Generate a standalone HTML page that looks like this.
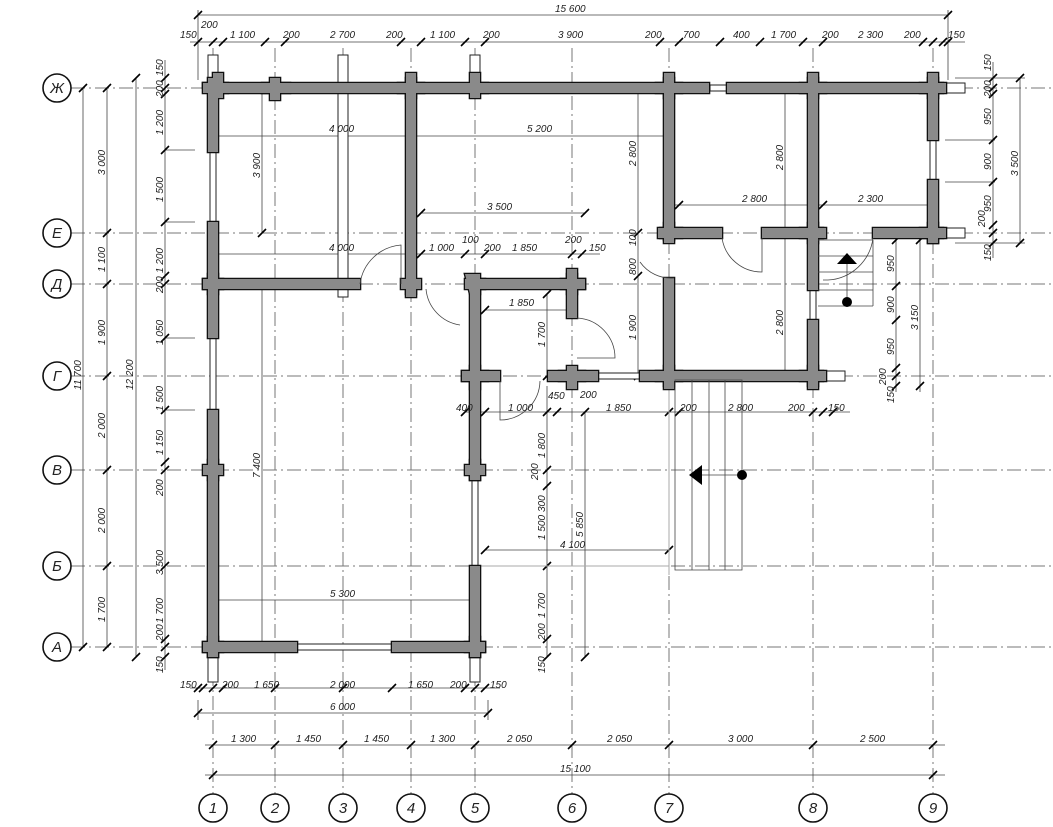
<!DOCTYPE html>
<html><head><meta charset="utf-8"><style>
html,body{margin:0;padding:0;background:#fff}
svg{display:block}
text{font-family:"Liberation Sans",sans-serif;font-style:italic;font-size:10px;fill:#222}
.ax{stroke:#777;stroke-width:1;stroke-dasharray:14 4 2 4;fill:none}
.d{stroke:#444;stroke-width:.8;fill:none}
.t{stroke:#000;stroke-width:1.6}
.wo{fill:#111;stroke:#111;stroke-width:2.6}
.wi{fill:#8a8a8a;stroke:none}
.s{fill:#fff;stroke:#222;stroke-width:1}
.b{fill:#fff;stroke:#111;stroke-width:1.6}
.bt{font-size:15px;text-anchor:middle;font-style:italic}
</style></head><body>
<svg width="1053" height="827" viewBox="0 0 1053 827" xmlns="http://www.w3.org/2000/svg">
<defs>
<g id="walls">
<path d="M203 83H709V93H203Z"/><path d="M727 83H943V93H727Z"/>
<path d="M208 78H218V152H208Z"/><path d="M208 222H218V338H208Z"/><path d="M208 410H218V657H208Z"/>
<path d="M203 642H297V652H203Z"/><path d="M392 642H485V652H392Z"/>
<path d="M203 279H360V289H203Z"/><path d="M406 78H416V294H406Z"/>
<path d="M465 279H585V289H465Z"/><path d="M470 279H480V480H470Z"/><path d="M470 566H480V657H470Z"/>
<path d="M567 274H577V318H567Z"/><path d="M548 371H598V381H548Z"/><path d="M462 371H500V381H462Z"/>
<path d="M640 371H823V381H640Z"/><path d="M664 78H674V240H664Z"/><path d="M664 278H674V386H664Z"/>
<path d="M660 228H722V238H660Z"/><path d="M762 228H823V238H762Z"/><path d="M873 228H943V238H873Z"/>
<path d="M808 78H818V290H808Z"/><path d="M808 320H818V386H808Z"/><path d="M928 78H938V140H928Z"/><path d="M928 180H938V243H928Z"/>
<path d="M203 88h-5v-5h10v-10h10v10h5v10h-5v5h-10v-5z" transform="translate(5 0)"/>
<path d="M270 78h10v5h10v10h-10v7h-10v-7h-8v-10h8z"/>
<path d="M406 73h10v10h8v10h-8v5h-10v-5h-8v-10h8z"/>
<path d="M470 73h10v10h8v10h-8v5h-10z"/>
<path d="M664 73h10v10h8v10h-8v5h-10v-5h-8v-10h8z"/>
<path d="M808 73h10v10h8v10h-8v5h-10v-5h-8v-10h8z"/>
<path d="M928 73h10v10h8v10h-8v5h-10v-5h-8v-10h8z"/>
<path d="M401 279h20v10h-5v8h-10v-8h-5z"/>
<path d="M465 274h15v5h5v10h-5v5h-10z"/>
<path d="M567 269h10v10h8v10h-8v5h-10v-5h-6v-10h6z"/>
<path d="M567 366h10v5h8v10h-8v8h-10v-8h-8v-10h8z"/>
<path d="M470 366h10v5h8v10h-8v8h-10v-8h-8v-10h8z"/>
<path d="M664 366h10v5h8v10h-8v8h-10v-8h-8v-10h8z"/>
<path d="M808 366h10v5h8v10h-8v8h-10v-8h-8v-10h8z"/>
<path d="M664 223h10v5h8v10h-8v5h-10v-5h-6v-10h6z"/>
<path d="M808 223h10v5h8v10h-8v5h-10v-5h-8v-10h8z"/>
<path d="M928 223h10v5h8v10h-8v5h-10v-5h-8v-10h8z"/>
<path d="M208 274h10v5h5v10h-5v5h-10v-5h-5v-10h5z"/>
<path d="M208 460h10v5h5v10h-5v5h-10v-5h-5v-10h5z"/>
<path d="M470 460h10v5h5v10h-5v5h-10v-5h-5v-10h5z"/>
<path d="M208 637h10v5h5v10h-5v5h-10v-5h-5v-10h5z"/>
<path d="M470 637h10v5h5v10h-5v5h-10v-5h-5v-10h5z"/>
</g>
</defs>
<!-- axes -->
<g class="ax">
<line x1="213" y1="48" x2="213" y2="795"/><line x1="275" y1="48" x2="275" y2="795"/><line x1="343" y1="48" x2="343" y2="795"/><line x1="411" y1="48" x2="411" y2="795"/><line x1="475" y1="48" x2="475" y2="795"/><line x1="572" y1="48" x2="572" y2="795"/><line x1="669" y1="48" x2="669" y2="795"/><line x1="813" y1="48" x2="813" y2="795"/><line x1="933" y1="48" x2="933" y2="795"/>
<line x1="71" y1="88" x2="1053" y2="88"/><line x1="71" y1="233" x2="1053" y2="233"/><line x1="71" y1="284" x2="1053" y2="284"/><line x1="71" y1="376" x2="1053" y2="376"/><line x1="71" y1="470" x2="1053" y2="470"/><line x1="71" y1="566" x2="1053" y2="566"/><line x1="71" y1="647" x2="1053" y2="647"/>
</g>
<!-- bubbles -->
<g>
<circle class="b" cx="57" cy="88" r="14"/><circle class="b" cx="57" cy="233" r="14"/><circle class="b" cx="57" cy="284" r="14"/><circle class="b" cx="57" cy="376" r="14"/><circle class="b" cx="57" cy="470" r="14"/><circle class="b" cx="57" cy="566" r="14"/><circle class="b" cx="57" cy="647" r="14"/>
<text class="bt" x="57" y="93">Ж</text><text class="bt" x="57" y="238">Е</text><text class="bt" x="57" y="289">Д</text><text class="bt" x="57" y="381">Г</text><text class="bt" x="57" y="475">В</text><text class="bt" x="57" y="571">Б</text><text class="bt" x="57" y="652">А</text>
<circle class="b" cx="213" cy="808" r="14"/><circle class="b" cx="275" cy="808" r="14"/><circle class="b" cx="343" cy="808" r="14"/><circle class="b" cx="411" cy="808" r="14"/><circle class="b" cx="475" cy="808" r="14"/><circle class="b" cx="572" cy="808" r="14"/><circle class="b" cx="669" cy="808" r="14"/><circle class="b" cx="813" cy="808" r="14"/><circle class="b" cx="933" cy="808" r="14"/>
<text class="bt" x="213" y="813">1</text><text class="bt" x="275" y="813">2</text><text class="bt" x="343" y="813">3</text><text class="bt" x="411" y="813">4</text><text class="bt" x="475" y="813">5</text><text class="bt" x="572" y="813">6</text><text class="bt" x="669" y="813">7</text><text class="bt" x="813" y="813">8</text><text class="bt" x="933" y="813">9</text>
</g>
<!-- dimension lines -->
<g class="d">
<line x1="198" y1="15" x2="948" y2="15"/><line x1="198" y1="10" x2="198" y2="80"/><line x1="948" y1="10" x2="948" y2="80"/>
<line x1="190" y1="42" x2="965" y2="42"/>
<line x1="190" y1="688" x2="500" y2="688"/><line x1="198" y1="713" x2="488" y2="713"/><line x1="198" y1="700" x2="198" y2="720"/><line x1="488" y1="700" x2="488" y2="720"/>
<line x1="205" y1="745" x2="945" y2="745"/><line x1="205" y1="775" x2="945" y2="775"/>
<line x1="83" y1="88" x2="83" y2="647"/><line x1="107" y1="88" x2="107" y2="647"/><line x1="136" y1="78" x2="136" y2="657"/><line x1="165" y1="60" x2="165" y2="670"/>
<line x1="165" y1="150" x2="195" y2="150"/><line x1="165" y1="222" x2="195" y2="222"/><line x1="165" y1="338" x2="195" y2="338"/><line x1="165" y1="410" x2="195" y2="410"/>
<line x1="993" y1="62" x2="993" y2="258"/><line x1="1020" y1="78" x2="1020" y2="243"/><line x1="955" y1="78" x2="1025" y2="78"/><line x1="955" y1="243" x2="1025" y2="243"/><line x1="945" y1="140" x2="995" y2="140"/><line x1="945" y1="182" x2="995" y2="182"/>
<line x1="896" y1="240" x2="896" y2="392"/><line x1="920" y1="240" x2="920" y2="392"/>
<line x1="213" y1="136" x2="411" y2="136"/><line x1="411" y1="136" x2="669" y2="136"/><line x1="262" y1="88" x2="262" y2="233"/><line x1="262" y1="284" x2="262" y2="647"/>
<line x1="421" y1="213" x2="585" y2="213"/><line x1="213" y1="254" x2="600" y2="254"/>
<line x1="485" y1="310" x2="572" y2="310"/><line x1="547" y1="294" x2="547" y2="376"/>
<line x1="638" y1="88" x2="638" y2="376"/><line x1="785" y1="88" x2="785" y2="376"/><line x1="669" y1="205" x2="933" y2="205"/>
<line x1="465" y1="412" x2="850" y2="412"/><line x1="547" y1="386" x2="547" y2="657"/><line x1="585" y1="412" x2="585" y2="657"/>
<line x1="485" y1="550" x2="669" y2="550"/><line x1="213" y1="600" x2="475" y2="600"/>
</g>
<!-- ticks -->
<g class="t">
<path d="M194 46l8-8M209 46l8-8M219 46l8-8M261 46l8-8M281 46l8-8M397 46l8-8M417 46l8-8M461 46l8-8M481 46l8-8M656 46l8-8M675 46l8-8M716 46l8-8M756 46l8-8M799 46l8-8M819 46l8-8M919 46l8-8M929 46l8-8M939 46l8-8M944 46l8-8M194 19l8-8M944 19l8-8"/>
<path d="M194 692l8-8M199 692l8-8M209 692l8-8M219 692l8-8M271 692l8-8M339 692l8-8M388 692l8-8M461 692l8-8M471 692l8-8M481 692l8-8M194 717l8-8M484 717l8-8"/>
<path d="M209 749l8-8M271 749l8-8M339 749l8-8M407 749l8-8M471 749l8-8M568 749l8-8M665 749l8-8M809 749l8-8M929 749l8-8M209 779l8-8M929 779l8-8"/>
<path d="M79 92l8-8M79 651l8-8M103 92l8-8M103 237l8-8M103 288l8-8M103 380l8-8M103 474l8-8M103 570l8-8M103 651l8-8M132 82l8-8M132 661l8-8"/>
<path d="M161 82l8-8M161 92l8-8M161 98l8-8M161 154l8-8M161 226l8-8M161 280l8-8M161 288l8-8M161 342l8-8M161 414l8-8M161 466l8-8M161 474l8-8M161 570l8-8M161 643l8-8M161 651l8-8M161 661l8-8"/>
<path d="M989 82l8-8M989 92l8-8M989 98l8-8M989 144l8-8M989 186l8-8M989 229l8-8M989 237l8-8M989 247l8-8M1016 82l8-8M1016 247l8-8"/>
<path d="M892 244l8-8M892 290l8-8M892 324l8-8M892 372l8-8M892 380l8-8M892 390l8-8M916 244l8-8M916 390l8-8"/>
<path d="M258 92l8-8M258 237l8-8M258 288l8-8M258 651l8-8M209 140l8-8M407 140l8-8M665 140l8-8M417 217l8-8M581 217l8-8M209 258l8-8M407 258l8-8M417 258l8-8M461 258l8-8M481 258l8-8M568 258l8-8M578 258l8-8M481 314l8-8M568 314l8-8M543 298l8-8M543 380l8-8"/>
<path d="M634 92l8-8M634 237l8-8M634 280l8-8M634 380l8-8M781 92l8-8M781 237l8-8M781 380l8-8M665 209l8-8M675 209l8-8M809 209l8-8M819 209l8-8M929 209l8-8"/>
<path d="M461 416l8-8M481 416l8-8M543 416l8-8M553 416l8-8M581 416l8-8M665 416l8-8M675 416l8-8M809 416l8-8M819 416l8-8M829 416l8-8M543 474l8-8M543 490l8-8M543 570l8-8M543 643l8-8M543 661l8-8M581 661l8-8M481 554l8-8M665 554l8-8M209 604l8-8M471 604l8-8"/>
</g>
<!-- stubs -->
<g class="s">
<rect x="208" y="55" width="10" height="25"/><rect x="208" y="657" width="10" height="25"/><rect x="470" y="55" width="10" height="40"/><rect x="338" y="55" width="10" height="242"/><rect x="470" y="657" width="10" height="25"/>
<rect x="943" y="83" width="22" height="10"/><rect x="943" y="228" width="22" height="10"/><rect x="823" y="371" width="22" height="10"/>
<rect x="598" y="373" width="42" height="6"/><rect x="710" y="85" width="17" height="6"/><rect x="210" y="152" width="6" height="70"/><rect x="210" y="338" width="6" height="72"/><rect x="297" y="644" width="95" height="6"/><rect x="472" y="480" width="6" height="86"/><rect x="810" y="290" width="6" height="30"/><rect x="930" y="140" width="6" height="40"/>
<line x1="478" y1="566" x2="669" y2="566" stroke="#aaa"/><line x1="669" y1="376" x2="669" y2="575" stroke="#aaa"/>
</g>
<!-- walls -->
<use href="#walls" class="wo"/>
<use href="#walls" class="wi"/>
<!-- doors -->
<g class="d" stroke="#333">
<path d="M360 284A45 45 0 0 1 401 245V284"/><path d="M426 289A40 40 0 0 0 460 325"/><path d="M577 318A40 40 0 0 1 615 358H577"/>
<path d="M500 381V420A40 40 0 0 0 540 381"/><path d="M674 278A38 38 0 0 1 640 262"/><path d="M722 238A40 40 0 0 0 762 272V238"/>
<path d="M873 238A48 48 0 0 1 828 280H823"/>
<path d="M675 380H742V570H675Z"/><path d="M692 380V570M709 380V570M725 380V570"/><path d="M742 475H700"/>
<path d="M818 240H873M818 256H873M818 272H873M818 290H873M818 306H873M873 240V306M847 262V302"/>
</g>
<path d="M689 475L702 465V485Z" fill="#000"/><circle cx="742" cy="475" r="5" fill="#000"/>
<path d="M847 253L837 264H857Z" fill="#000"/><circle cx="847" cy="302" r="5" fill="#000"/>
<!-- texts -->
<g>
<text x="555" y="12">15 600</text>
<text x="180" y="38">150</text><text x="201" y="28">200</text><text x="230" y="38">1 100</text><text x="283" y="38">200</text><text x="330" y="38">2 700</text><text x="386" y="38">200</text><text x="430" y="38">1 100</text><text x="483" y="38">200</text><text x="558" y="38">3 900</text><text x="645" y="38">200</text><text x="683" y="38">700</text><text x="733" y="38">400</text><text x="771" y="38">1 700</text><text x="822" y="38">200</text><text x="858" y="38">2 300</text><text x="904" y="38">200</text><text x="948" y="38">150</text>
<text x="180" y="688">150</text><text x="222" y="688">200</text><text x="254" y="688">1 650</text><text x="330" y="688">2 000</text><text x="408" y="688">1 650</text><text x="450" y="688">200</text><text x="490" y="688">150</text>
<text x="330" y="710">6 000</text>
<text x="231" y="742">1 300</text><text x="296" y="742">1 450</text><text x="364" y="742">1 450</text><text x="430" y="742">1 300</text><text x="507" y="742">2 050</text><text x="607" y="742">2 050</text><text x="728" y="742">3 000</text><text x="860" y="742">2 500</text>
<text x="560" y="772">15 100</text>
<text x="329" y="132">4 000</text><text x="527" y="132">5 200</text><text x="487" y="210">3 500</text><text x="329" y="251">4 000</text><text x="429" y="251">1 000</text><text x="462" y="243">100</text><text x="484" y="251">200</text><text x="512" y="251">1 850</text><text x="565" y="243">200</text><text x="589" y="251">150</text>
<text x="509" y="306">1 850</text><text x="742" y="202">2 800</text><text x="858" y="202">2 300</text><text x="330" y="597">5 300</text><text x="560" y="548">4 100</text>
<text x="456" y="411">400</text><text x="508" y="411">1 000</text><text x="548" y="399">450</text><text x="580" y="398">200</text><text x="606" y="411">1 850</text><text x="680" y="411">200</text><text x="728" y="411">2 800</text><text x="788" y="411">200</text><text x="828" y="411">150</text>
</g>
<g>
<text transform="translate(260,178) rotate(-90)">3 900</text><text transform="translate(260,478) rotate(-90)">7 400</text>
<text transform="translate(545,347) rotate(-90)">1 700</text><text transform="translate(636,340) rotate(-90)">1 900</text><text transform="translate(636,166) rotate(-90)">2 800</text><text transform="translate(636,246) rotate(-90)">100</text><text transform="translate(636,275) rotate(-90)">800</text>
<text transform="translate(783,170) rotate(-90)">2 800</text><text transform="translate(783,335) rotate(-90)">2 800</text>
<text transform="translate(545,458) rotate(-90)">1 800</text><text transform="translate(538,480) rotate(-90)">200</text><text transform="translate(545,512) rotate(-90)">300</text><text transform="translate(545,540) rotate(-90)">1 500</text><text transform="translate(583,537) rotate(-90)">5 850</text><text transform="translate(545,618) rotate(-90)">1 700</text><text transform="translate(545,640) rotate(-90)">200</text><text transform="translate(545,673) rotate(-90)">150</text>
<text transform="translate(81,390) rotate(-90)">11 700</text><text transform="translate(133,390) rotate(-90)">12 200</text>
<text transform="translate(105,175) rotate(-90)">3 000</text><text transform="translate(105,272) rotate(-90)">1 100</text><text transform="translate(105,345) rotate(-90)">1 900</text><text transform="translate(105,438) rotate(-90)">2 000</text><text transform="translate(105,533) rotate(-90)">2 000</text><text transform="translate(105,622) rotate(-90)">1 700</text>
<text transform="translate(163,76) rotate(-90)">150</text><text transform="translate(163,97) rotate(-90)">200</text><text transform="translate(163,135) rotate(-90)">1 200</text><text transform="translate(163,202) rotate(-90)">1 500</text><text transform="translate(163,273) rotate(-90)">1 200</text><text transform="translate(163,293) rotate(-90)">200</text><text transform="translate(163,345) rotate(-90)">1 050</text><text transform="translate(163,411) rotate(-90)">1 500</text><text transform="translate(163,455) rotate(-90)">1 150</text><text transform="translate(163,496) rotate(-90)">200</text><text transform="translate(163,575) rotate(-90)">3 500</text><text transform="translate(163,623) rotate(-90)">1 700</text><text transform="translate(163,641) rotate(-90)">200</text><text transform="translate(163,673) rotate(-90)">150</text>
<text transform="translate(991,71) rotate(-90)">150</text><text transform="translate(991,97) rotate(-90)">200</text><text transform="translate(991,125) rotate(-90)">950</text><text transform="translate(991,170) rotate(-90)">900</text><text transform="translate(991,212) rotate(-90)">950</text><text transform="translate(985,227) rotate(-90)">200</text><text transform="translate(991,261) rotate(-90)">150</text><text transform="translate(1018,176) rotate(-90)">3 500</text>
<text transform="translate(894,272) rotate(-90)">950</text><text transform="translate(894,313) rotate(-90)">900</text><text transform="translate(894,355) rotate(-90)">950</text><text transform="translate(886,385) rotate(-90)">200</text><text transform="translate(894,403) rotate(-90)">150</text><text transform="translate(918,330) rotate(-90)">3 150</text>
</g>
</svg>
</body></html>
